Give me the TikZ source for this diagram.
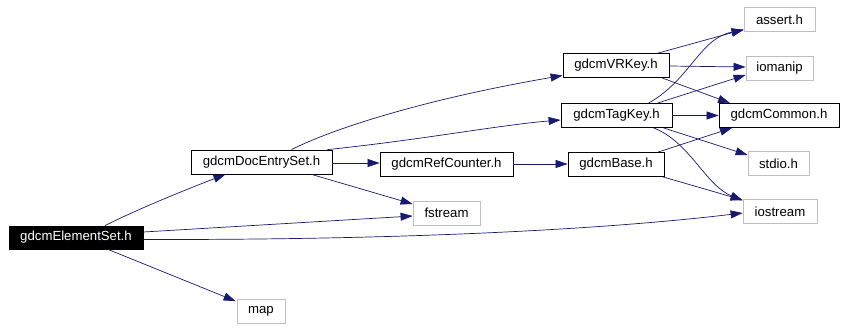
\documentclass[tikz,border=0pt]{standalone}
\usepackage{fontspec}
\setmainfont{Liberation Sans}
\usetikzlibrary{arrows.meta,calc}
\definecolor{edgec}{HTML}{191970}
\definecolor{grayb}{HTML}{BFBFBF}
\begin{document}
\begin{tikzpicture}[x=1pt,y=-1pt,
  box/.style={draw=black,line width=0.8pt,minimum height=24pt,inner sep=0pt,font=\fontsize{13.2}{15}\selectfont,text=black},
  ext/.style={box,draw=grayb},
  root/.style={box,fill=black,text=white},
  edge/.style={draw=edgec,line width=0.7pt,-{Triangle[length=12pt,width=8pt]}}]
\useasboundingbox (0,0) rectangle (845,329);
% nodes
\node[root,minimum width=134pt,minimum height=23pt] (es) at (76,237.5) {gdcmElementSet.h};
\node[box,minimum width=141pt] (des) at (261.5,162) {gdcmDocEntrySet.h};
\node[ext,minimum width=48pt] (map) at (261,311.5) {map};
\node[ext,minimum width=67pt] (fs) at (446.5,213) {fstream};
\node[box,minimum width=133pt] (rc) at (446.5,164) {gdcmRefCounter.h};
\node[box,minimum width=106pt] (vr) at (616,65.5) {gdcmVRKey.h};
\node[box,minimum width=111pt] (tk) at (616.5,115.5) {gdcmTagKey.h};
\node[box,minimum width=96pt] (base) at (616,164.5) {gdcmBase.h};
\node[ext,minimum width=71pt] (as) at (779.5,19.5) {assert.h};
\node[ext,minimum width=67pt] (iom) at (779.5,68) {iomanip};
\node[box,minimum width=120pt] (com) at (779,115.5) {gdcmCommon.h};
\node[ext,minimum width=61pt] (st) at (778.5,163.5) {stdio.h};
\node[ext,minimum width=74pt] (ios) at (780,211.5) {iostream};
% edges
\draw[edge] ($(es.north)+(29,0)$) .. controls (140,208) and (190,188) .. ($(des.south)+(-36,0)$);
\draw[edge] ($(es.east)+(0,-5.5)$) -- ($(fs.west)+(0,3)$);
\draw[edge] ($(es.east)+(0,2)$) .. controls (400,240) and (600,230) .. ($(ios.west)+(0,1.5)$);
\draw[edge] ($(es.south)+(32,0)$) -- ($(map.north west)+(-1,2)$);
\draw[edge] ($(des.east)+(0,1)$) -- ($(rc.west)+(0,-1)$);
\draw[edge] ($(des.south)+(50,0)$) -- ($(fs.west)+(0,-9)$);
\draw[edge] ($(des.north)+(30,0)$) .. controls (330,130) and (420,100) .. ($(vr.west)+(0,10)$);
\draw[edge] ($(des.north)+(66,0)$) .. controls (420,140) and (500,125) .. ($(tk.west)+(0,4.5)$);
\draw[edge] (rc.east) -- ($(base.west)+(0,-0.5)$);
\draw[edge] ($(vr.north)+(42,0)$) -- ($(as.west)+(0,10)$);
\draw[edge] ($(vr.east)+(0,0.5)$) -- ($(iom.west)+(0,-1)$);
\draw[edge] ($(vr.south)+(46,0)$) -- ($(com.north)+(-49,0)$);
\draw[edge] ($(tk.north)+(32,0)$) .. controls (690,80) and (700,38) .. ($(as.west)+(0,10.5)$);
\draw[edge] ($(tk.north)+(41,0)$) -- ($(iom.west)+(0,7)$);
\draw[edge] (tk.east) -- (com.west);
\draw[edge] ($(tk.south)+(47,0)$) -- ($(st.west)+(0,-8.5)$);
\draw[edge] ($(tk.south)+(37,0)$) .. controls (690,142) and (705,185) .. ($(ios.west)+(0,-11)$);
\draw[edge] ($(base.north)+(42,0)$) -- ($(com.south)+(-47,0)$);
\draw[edge] ($(base.south)+(47,0)$) -- ($(ios.west)+(0,-11.5)$);
\end{tikzpicture}
\end{document}
